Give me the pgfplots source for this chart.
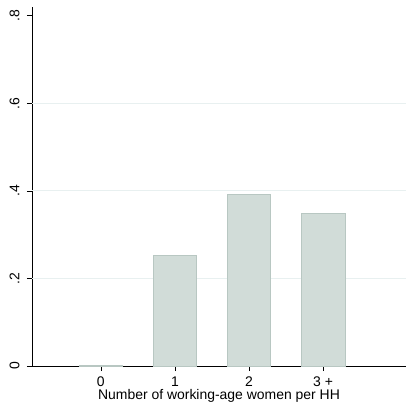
\documentclass[border=0pt]{standalone}
\usepackage{pgfplots}
\pgfplotsset{compat=1.18}
\usepackage{fontspec}
\setmainfont{Liberation Sans}
\definecolor{barfill}{RGB}{209,220,216}
\definecolor{bardraw}{RGB}{184,199,194}
\definecolor{gridc}{RGB}{232,240,240}
\begin{document}
\begin{tikzpicture}
\begin{axis}[
  scale only axis, width=374bp, height=359bp,
  xmin=-0.93, xmax=4.12, ymin=0, ymax=0.82,
  axis x line=bottom, axis y line=left,
  axis line style={-, line width=0.7pt, black},
  tick align=outside, major tick length=5bp,
  tick style={black, line width=0.6pt},
  xtick={0,1,2,3}, xticklabels={0,1,2,3 +},
  ytick={0,0.2,0.4,0.6,0.8}, yticklabels={0,.2,.4,.6,.8},
  extra y ticks={0.2,0.4,0.6},
  extra y tick style={grid=major, major tick length=0pt, yticklabels={}},
  major grid style={gridc, line width=0.8pt},
  /pgf/number format/assume math mode=true,
  tick label style={font=\fontsize{14}{16}\selectfont},
  yticklabel style={rotate=90, anchor=south},
  yticklabel shift=4bp,
  xticklabel style={inner sep=1.5bp},
  xticklabel shift=4bp,
  label style={font=\fontsize{14}{16}\selectfont},
  xlabel={Number of working-age women per HH},
  xlabel style={inner sep=1bp, yshift=0bp},
  clip=false,
]
\addplot[ybar, bar width=0.59, fill=barfill, draw=bardraw, line width=0.7pt]
  coordinates {(0,0.002) (1,0.252) (2,0.392) (3,0.348)};
\coordinate (o) at (rel axis cs:0,0);
\end{axis}
\pgfresetboundingbox
\path[use as bounding box] ([shift={(-32bp,-43bp)}]o) rectangle ++(406bp,409bp);
\end{tikzpicture}
\end{document}
